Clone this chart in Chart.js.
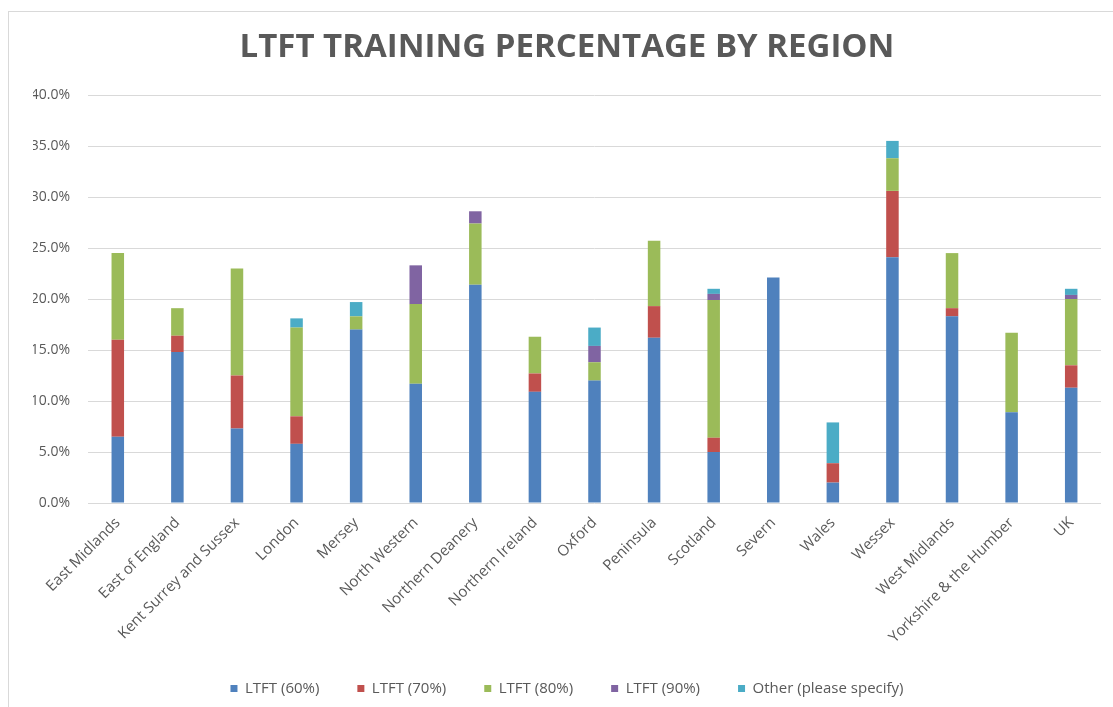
<!DOCTYPE html>
<html lang="en">
<head>
    <meta charset="UTF-8">
    <title>LTFT Training Percentage by Region</title>
    <style>
        html, body {
            margin: 0;
            padding: 0;
            background: #ffffff;
            overflow: hidden;
            width: 1113px;
            height: 707px;
        }

        .frame {
            position: absolute;
            left: 8px;
            top: 11px;
            width: 1104px;
            height: 720px;
            border-left: 1px solid #d9d9d9;
            border-top: 1px solid #d9d9d9;
        }

        canvas {
            display: block;
        }
    </style>
</head>
<body>
    <div class="frame">
        <canvas id="ltftChart" width="1104" height="694"></canvas>
    </div>

    <script src="https://cdn.jsdelivr.net/npm/chart.js"></script>
    <script>
        // Regions (x categories)
        const regions = [
            "East Midlands", "East of England", "Kent Surrey and Sussex", "London", "Mersey",
            "North Western", "Northern Deanery", "Northern Ireland", "Oxford", "Peninsula",
            "Scotland", "Severn", "Wales", "Wessex", "West Midlands", "Yorkshire & the Humber", "UK"
        ];

        // Percent of trainees
        const ltft60 = [6.5, 14.8, 7.3, 5.8, 17.0, 11.7, 21.4, 10.9, 12.0, 16.2, 5.0, 22.1, 2.0, 24.1, 18.3, 8.9, 11.3];
        const ltft70 = [9.5, 1.6, 5.2, 2.7, 0, 0, 0, 1.8, 0, 3.1, 1.4, 0, 1.9, 6.5, 0.8, 0, 2.2];
        const ltft80 = [8.5, 2.7, 10.5, 8.7, 1.3, 7.8, 6.0, 3.6, 1.8, 6.4, 13.5, 0, 0, 3.2, 5.4, 7.8, 6.5];
        const ltft90 = [0, 0, 0, 0, 0, 3.8, 1.2, 0, 1.6, 0, 0.6, 0, 0, 0, 0, 0, 0.4];
        const other  = [0, 0, 0, 0.9, 1.4, 0, 0, 0, 1.8, 0, 0.5, 0, 4.0, 1.7, 0, 0, 0.6];

        const seriesNames = ["LTFT (60%)", "LTFT (70%)", "LTFT (80%)", "LTFT (90%)", "Other (please specify)"];

        // Y axis ticks
        const yMin = 0;
        const yMax = 40;
        const yStep = 5;

        const textGrey = "#595959";
        const colours = ["#4F81BD", "#C0504D", "#9BBB59", "#8064A2", "#4BACC6"];
        const padLeft = 24;

        const seriesValues = [ltft60, ltft70, ltft80, ltft90, other];
        const datasets = seriesValues.map(function (values, i) {
            return {
                label: seriesNames[i],
                data: values,
                backgroundColor: colours[i],
                borderWidth: 0,
                barPercentage: 1,
                categoryPercentage: 0.21
            };
        });

        const ctx = document.getElementById("ltftChart").getContext("2d");
        new Chart(ctx, {
            type: "bar",
            data: { labels: regions, datasets: datasets },
            options: {
                responsive: false,
                animation: false,
                layout: { padding: { left: padLeft, right: 12, top: 0, bottom: 0 } },
                plugins: {
                    title: {
                        display: true,
                        text: "LTFT TRAINING PERCENTAGE BY REGION",
                        color: textGrey,
                        font: { family: "'Open Sans', sans-serif", size: 33, weight: "bold", lineHeight: 1.2 },
                        padding: { top: 16.2, bottom: 27.2 }
                    },
                    legend: {
                        position: "bottom",
                        labels: {
                            color: textGrey,
                            font: { family: "'Open Sans', sans-serif", size: 15 },
                            boxWidth: 7,
                            boxHeight: 7,
                            padding: 38
                        }
                    },
                    tooltip: { enabled: false }
                },
                scales: {
                    x: {
                        stacked: true,
                        grid: { display: false, drawTicks: false },
                        border: { display: false },
                        ticks: {
                            color: textGrey,
                            font: { family: "'Open Sans', sans-serif", size: 15 },
                            minRotation: 45,
                            maxRotation: 45,
                            autoSkip: false,
                            padding: 11
                        },
                        afterFit: function (scale) { scale.height = 140; }
                    },
                    y: {
                        stacked: true,
                        min: yMin,
                        max: yMax,
                        grid: { color: "#d9d9d9", drawTicks: false },
                        border: { display: false },
                        ticks: {
                            stepSize: yStep,
                            color: textGrey,
                            font: { family: "'Open Sans', sans-serif", size: 14 },
                            padding: 18,
                            callback: function (v) { return v.toFixed(1) + "%"; }
                        },
                        afterFit: function (scale) { scale.width = 79 - padLeft; }
                    }
                }
            }
        });
    </script>
</body>
</html>
